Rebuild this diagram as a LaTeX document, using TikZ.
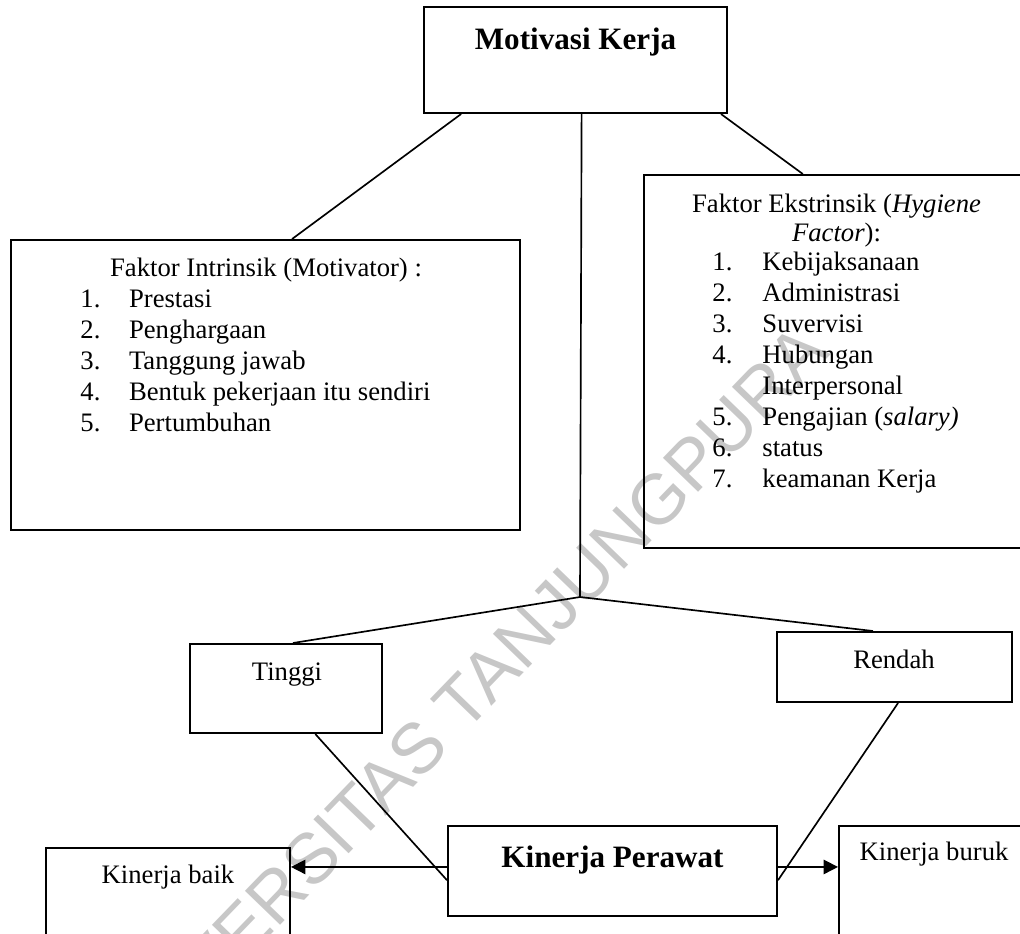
\documentclass[tikz,border=0pt]{standalone}
\usepackage{fontspec}
\setmainfont{Liberation Serif}
\newfontfamily\wmfont{Liberation Sans}
\usetikzlibrary{calc,arrows.meta}

\tikzset{
  box/.style 2 args={draw, line width=0.9pt, inner sep=0pt,
    minimum width={#1*0.45pt}, minimum height={#2*0.45pt}},
  txt/.style={inner sep=0pt, font=\fontsize{12}{14}\selectfont},
  judul/.style={inner sep=0pt, font=\fontsize{14}{16}\selectfont\bfseries},
  garis/.style={line width=0.75pt},
}

\begin{document}
\begin{tikzpicture}[x=0.45pt, y=-0.45pt]
            \clip (0,0) rectangle (1020,933);

            % Watermark
            \node[rotate=46, anchor=base east, inner sep=0pt, text=black!22,
              font=\wmfont\fontsize{32}{36}\selectfont] (watermark) at (832,354)
              {UNIVERSITAS TANJUNGPURA};

            % Kotak-kotak
            \node[box={303}{106}] (motivasi) at (575.5,60) {};
            \node[box={509}{290}] (intrinsik) at (265.5,385) {};
            \node[box={385}{373}] (ekstrinsik) at (836.5,361.5) {};
            \node[box={192}{89}]  (tinggi) at (286,688.5) {};
            \node[box={235}{70}]  (rendah) at (894.5,667) {};
            \node[box={329}{90}]  (kinerja) at (612.5,871) {};
            \node[box={244}{112}] (baik) at (168,904) {};
            \node[box={222}{134}] (buruk) at (950,893) {};

            % Judul
            \node[judul, anchor=base] (motivasi-t) at (575.5,49) {Motivasi Kerja};
            \node[judul, anchor=base] (kinerja-t) at (612.5,867) {Kinerja Perawat};
            \node[txt, anchor=base] (tinggi-t) at (287,680) {Tinggi};
            \node[txt, anchor=base] (rendah-t) at (894,668) {Rendah};
            \node[txt, anchor=base] (baik-t) at (168,883) {Kinerja baik};
            \node[txt, anchor=base] (buruk-t) at (934,860) {Kinerja buruk};

            % Faktor intrinsik
            \node[txt, anchor=base] (intrinsik-t) at (266,276) {Faktor Intrinsik (Motivator) :};
            \foreach \t [count=\i] in {Prestasi, Penghargaan, Tanggung jawab,
                Bentuk pekerjaan itu sendiri, Pertumbuhan} {
              \node[txt, anchor=base west] (in-no\i) at (80,{276+31*\i}) {\i.};
              \node[txt, anchor=base west] (in\i) at (128.6,{276+31*\i}) {\t};
            }

            % Faktor ekstrinsik
            \node[txt, anchor=base] (ekstrinsik-t1) at (836.5,212) {Faktor Ekstrinsik (\textit{Hygiene}};
            \node[txt, anchor=base] (ekstrinsik-t2) at (836.5,241) {\textit{Factor}):};
            \foreach \y/\n/\t [count=\i] in {270/1./Kebijaksanaan, 301/2./Administrasi,
                332/3./Suvervisi, 363/4./Hubungan, 394//Interpersonal,
                425/5./{Pengajian (\textit{salary)}}, 456/6./status, 487/7./keamanan Kerja} {
              \node[txt, anchor=base west] (ex-no\i) at (712,\y) {\n};
              \node[txt, anchor=base west] (ex\i) at (762,\y) {\t};
            }

            % Garis penghubung
            \coordinate (cabang) at (580,597);
            \draw[garis] ($(motivasi.south west)!0.125!(motivasi.south east)$) -- ($(intrinsik.north west)!0.552!(intrinsik.north east)$);
            \draw[garis] ($(motivasi.south west)!0.977!(motivasi.south east)$) -- ($(ekstrinsik.north west)!0.413!(ekstrinsik.north east)$);
            \draw[garis] ($(motivasi.south west)!0.52!(motivasi.south east)$) -- (cabang);
            \draw[garis] (cabang) -- ($(tinggi.north west)!0.536!(tinggi.north east)$);
            \draw[garis] (cabang) -- ($(rendah.north west)!0.409!(rendah.north east)$);
            \draw[garis] ($(tinggi.south west)!0.651!(tinggi.south east)$) -- ($(kinerja.north west)!0.6!(kinerja.south west)$);
            \draw[garis] ($(rendah.south west)!0.515!(rendah.south east)$) -- ($(kinerja.north east)!0.6!(kinerja.south east)$);

            % Panah
            \coordinate (kiri) at ($(kinerja.north west)!0.456!(kinerja.south west)$);
            \coordinate (kanan) at ($(kinerja.north east)!0.456!(kinerja.south east)$);
            \draw[garis, -{Triangle[length=6.5pt, width=6.5pt]}] (kiri) -- (kiri -| baik.east);
            \draw[garis, -{Triangle[length=6.5pt, width=6.5pt]}] (kanan) -- (kanan -| buruk.west);
        \end{tikzpicture}
\end{document}
